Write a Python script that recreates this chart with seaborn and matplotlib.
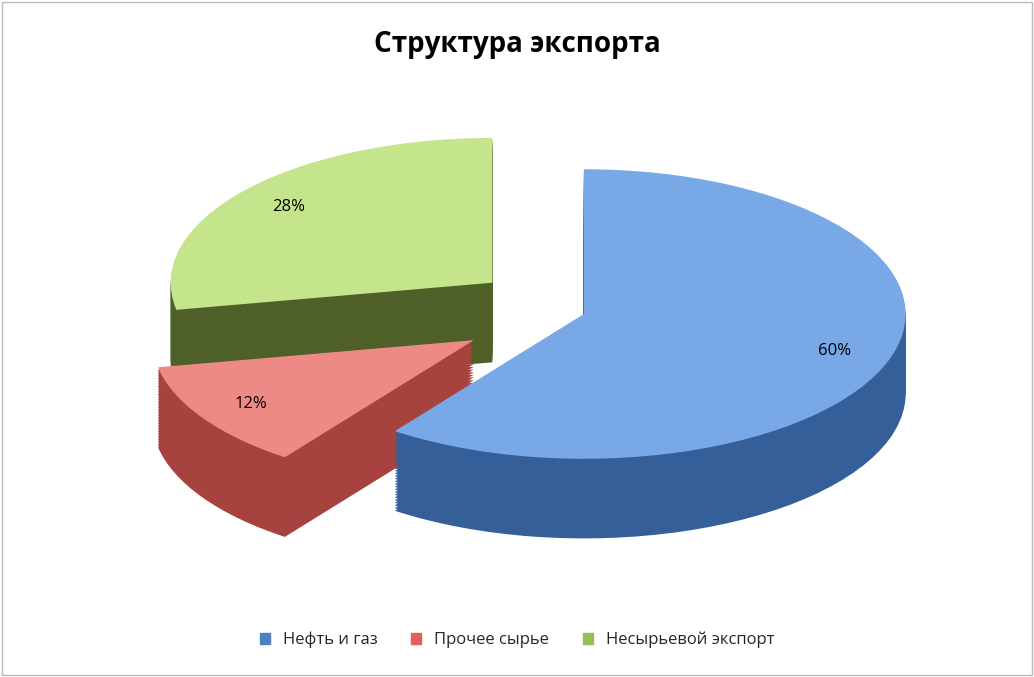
import matplotlib
matplotlib.use("Agg")
import matplotlib.pyplot as plt
import matplotlib.patches as mpatches
import seaborn as sns

categories = ["Нефть и газ", "Прочее сырье", "Несырьевой экспорт"]
values = [60, 12, 28]
top_colors = ["#79a8e6", "#ee8a86", "#c4e58c"]
side_colors = ["#355f98", "#a8423f", "#4f6129"]
legend_colors = ["#4f81bd", "#e0605c", "#9bbb59"]
explode = [0.04, 0.36, 0.32]

sns.set_theme(style="white")
plt.rcParams['font.family'] = ['Open Sans', 'DejaVu Sans']

fig = plt.figure(figsize=(10.34, 6.77), dpi=100)
ax = fig.add_axes([0.08, 0.13, 0.84, 0.70])

depth = 0.55
n = 30
for i in range(n, 0, -1):
    off = -depth * i / n
    ax.pie(values, explode=explode, colors=side_colors, startangle=90,
           counterclock=False, center=(0, off), wedgeprops=dict(linewidth=0))
wedges, texts, autotexts = ax.pie(values, explode=explode, colors=top_colors, startangle=90,
       counterclock=False, center=(0, 0), autopct='%1.0f%%', pctdistance=0.82,
       wedgeprops=dict(linewidth=0), textprops=dict(fontsize=12, color='black'))
ax.set_aspect(0.45)
ax.set_xlim(-1.52, 1.18)
ax.set_ylim(-1.7, 1.15)
ax.axis('off')

fig.suptitle("Структура экспорта", y=0.955, fontsize=20, fontweight='bold', color='black')
handles = [mpatches.Patch(color=c, label=l) for c, l in zip(legend_colors, categories)]
fig.legend(handles=handles, loc='lower center', ncol=3, frameon=False, fontsize=12,
           bbox_to_anchor=(0.5, 0.02), handlelength=0.6, handleheight=0.6, columnspacing=2.0)
fig.patches.append(mpatches.Rectangle((0.002, 0.003), 0.996, 0.994, transform=fig.transFigure,
                                      fill=False, edgecolor='#bbbbbb', linewidth=1))
fig.savefig("out.png", dpi=100)
